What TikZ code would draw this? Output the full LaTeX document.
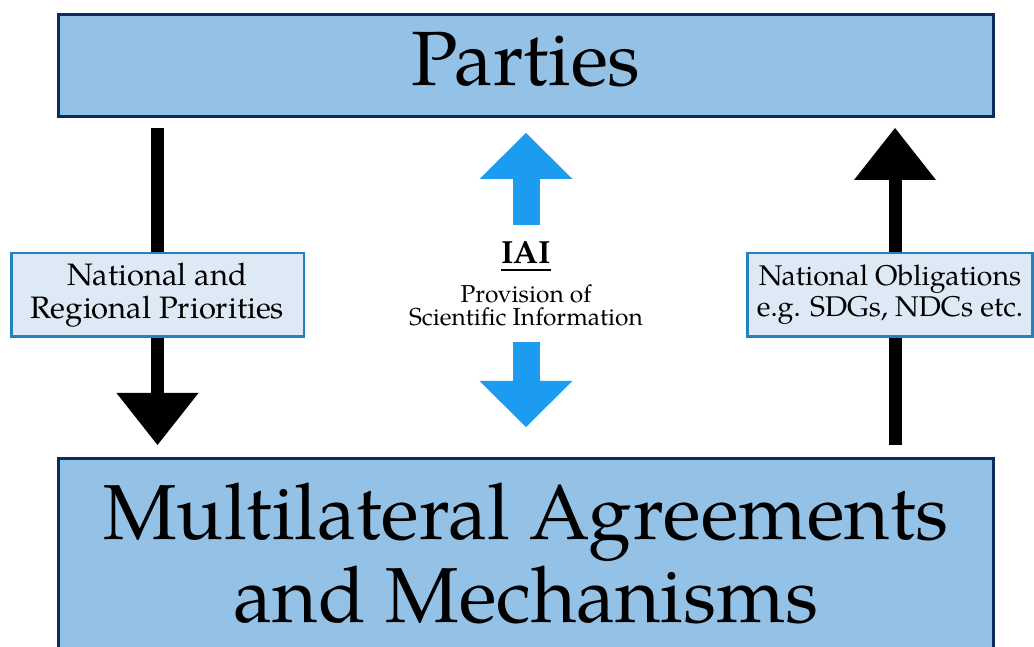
\documentclass[tikz,border=0pt]{standalone}
\usepackage{fontspec}
\setmainfont{TeX Gyre Pagella}
\newsavebox{\ulbox}
\newcommand{\thickul}[1]{\sbox{\ulbox}{#1}\rlap{\rule[-8.1pt]{\wd\ulbox}{2.2pt}}\usebox{\ulbox}}
\definecolor{boxblue}{RGB}{148,194,230}
\definecolor{boxnavy}{RGB}{12,44,94}
\definecolor{tagfill}{RGB}{221,234,246}
\definecolor{tagline}{RGB}{35,128,195}
\definecolor{iaiblue}{RGB}{28,156,240}
\usetikzlibrary{arrows.meta, positioning, calc}

\begin{document}
\begin{tikzpicture}[x=1pt, y=1pt,
    mainbox/.style={draw=boxnavy, fill=boxblue, line width=3pt, inner xsep=0pt, minimum width=935pt},
    tagbox/.style={draw=tagline, fill=tagfill, line width=2.5pt, align=center, inner sep=0pt, minimum height=83.5pt},
    blackshaft/.style={line width=13pt},
    blackarrow/.style={line width=13pt, -{Triangle[length=52pt, width=82pt, line width=0pt]}},
    bluearrow/.style={iaiblue, line width=27pt, -{Triangle[length=46pt, width=93pt, line width=0pt]}}]
    \useasboundingbox (0,0) rectangle (1034,646);
    \clip (0,0) rectangle (1034,646);

    % Parties
    \node[mainbox, minimum height=102pt, inner ysep=0pt, text depth=14pt, font=\fontsize{77}{80}\selectfont] (parties) at (526,580.5) {Parties};

    % Agreements, running off the bottom edge
    \node[mainbox, anchor=north, align=center, inner ysep=24pt, text depth=40pt, font=\fontsize{78}{83}\selectfont] (mam) at (526,189) {Multilateral Agreements\\and Mechanisms};

    % Side labels
    \node[tagbox, minimum width=292.5pt, font=\fontsize{31}{33}\selectfont] (natreg) at (157.5,351) {National and\\Regional Priorities};
    \node[tagbox, minimum width=285pt, font=\fontsize{28.5}{31}\selectfont] (oblig) at (890,351) {National Obligations\\e.g. SDGs, NDCs etc.};

    % Down: priorities
    \draw[blackshaft] ($(parties.south -| natreg.center)+(0,-10)$) -- (natreg.north);
    \draw[blackarrow] (natreg.south) -- ($(mam.north -| natreg.center)+(0,12)$);

    % Up: obligations
    \draw[blackshaft] ($(mam.north -| oblig.center)+(5,12)$) -- ($(oblig.south)+(5,0)$);
    \draw[blackarrow] ($(oblig.north)+(5,0)$) -- ($(parties.south -| oblig.center)+(5,-10)$);

    % IAI in the middle
    \node[align=center, anchor=north, inner xsep=0pt, inner ysep=16pt, font=\fontsize{24.5}{23}\selectfont] (iai) at (526,421)
        {{\fontsize{32}{34}\selectfont\thickul{\textbf{IAI}}}\\[12pt]Provision of\\Scientific Information};
    \draw[bluearrow] (iai.north) -- ($(parties.south)+(0,-15)$);
    \draw[bluearrow] (iai.south) -- ($(mam.north)+(0,30)$);
\end{tikzpicture}
\end{document}
